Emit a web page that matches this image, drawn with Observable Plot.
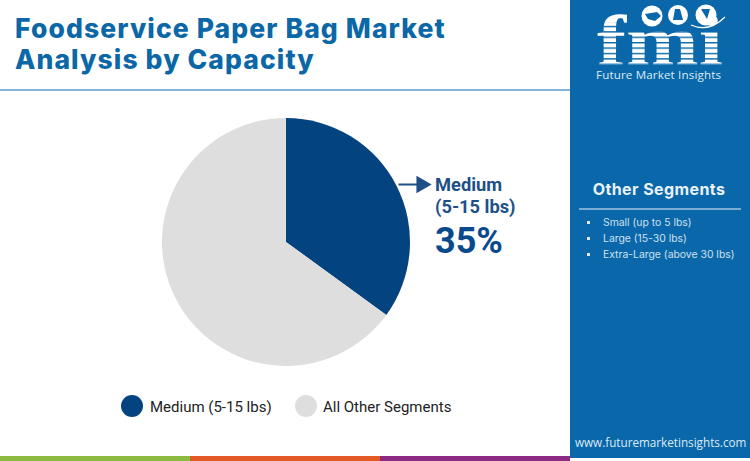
<!DOCTYPE html>
<html><head><meta charset="utf-8">
<script src="https://cdn.jsdelivr.net/npm/d3@7"></script>
<script src="https://cdn.jsdelivr.net/npm/@observablehq/plot@0.6"></script>
<style>
html,body{margin:0;padding:0;background:#fff;width:750px;height:461px;overflow:hidden;position:relative}
.abs{position:absolute;white-space:nowrap}
#title{left:15px;top:13px;font:800 26.5px/30.5px Inter,sans-serif;color:#0b67a6;letter-spacing:1.1px}
#rule{left:0;top:89px;width:570px;height:2px;background:#84b4d8}
#panel{left:570px;top:0;width:180px;height:458px;background:#0a67a9}
.bar{top:456px;height:5px}
#logo{left:570px;top:0}
#ost{left:570px;width:178px;text-align:center;top:179px;font:700 16px/20px Inter,sans-serif;color:#e9f2f8;letter-spacing:.4px}
#orule{left:579px;top:207.5px;width:162px;height:2px;background:#79add4}
.li{left:603px;font:400 10.4px/14px Inter,sans-serif;color:#cfe1ef}
.bu{left:587px;width:3px;height:3px;background:#dcebf5}
#web{left:575px;top:434px;font:400 11.7px/16px "Open Sans",sans-serif;color:#dcebf5}
.lg{top:396px;font:400 15px/22px Roboto,sans-serif;color:#222}
.sw{top:395px;width:22px;height:22px;border-radius:50%}
#chart{left:0;top:92px}
</style></head><body>
<div class="abs" id="title">Foodservice Paper Bag Market<br>Analysis by Capacity</div>
<div class="abs" id="rule"></div>
<div class="abs" id="chart"></div>
<div class="abs sw" style="left:121px;background:#03437f"></div>
<div class="abs lg" style="left:150px">Medium (5-15 lbs)</div>
<div class="abs sw" style="left:295px;background:#dedede"></div>
<div class="abs lg" style="left:323px">All Other Segments</div>
<div class="abs bar" style="left:0;width:190px;background:#8bbb40"></div>
<div class="abs bar" style="left:190px;width:190px;background:#e45a25"></div>
<div class="abs bar" style="left:380px;width:190px;background:#8c2a84"></div>
<div class="abs" id="panel"></div>
<svg class="abs" id="logo" width="180" height="90" viewBox="0 0 180 90">
  <defs><pattern id="st" width="4" height="5.4" patternUnits="userSpaceOnUse" y="15"><rect width="4" height="1.4" fill="#0a67a9"/></pattern></defs>
  <text x="27" y="65" font-family="Liberation Serif" font-weight="700" font-size="72" fill="#fff" textLength="126" lengthAdjust="spacingAndGlyphs">fmi</text>
  <rect x="20" y="22" width="140" height="45" fill="url(#st)"/>
  <circle cx="82" cy="16" r="10.5" fill="#fff"/><circle cx="108" cy="15" r="10" fill="#fff"/><circle cx="136" cy="15" r="10.5" fill="#fff"/>
  <path d="M75 14l12-2 4 4-6 5-7-2z" fill="#0a67a9"/><path d="M105 9l5 0 3 11-10 0z" fill="#0a67a9"/><path d="M131 9l9 0-3 10z" fill="#0a67a9"/>
  <path d="M121 25q18 8 34-8" stroke="#fff" stroke-width="1.2" fill="none"/>
  <text x="26" y="79" font-family="Open Sans" font-size="11.6" fill="#dcebf5" textLength="125">Future Market Insights</text>
</svg>
<div class="abs" id="ost">Other Segments</div>
<div class="abs" id="orule"></div>
<div class="abs bu" style="top:221px"></div><div class="abs li" style="top:215.5px">Small (up to 5 lbs)</div>
<div class="abs bu" style="top:237px"></div><div class="abs li" style="top:231.5px">Large (15-30 lbs)</div>
<div class="abs bu" style="top:253px"></div><div class="abs li" style="top:247.5px">Extra-Large (above 30 lbs)</div>
<div class="abs" id="web">www.futuremarketinsights.com</div>
<script>
const segments = ["Medium (5-15 lbs)", "All Other Segments"];
const shares = [35, 65];
const sliceColors = ["#03437f", "#dedede"];
const labelLines = ["Medium", "(5-15 lbs)"];
const labelValue = "35%";

const rows = segments.map((name, i) => ({name, share: shares[i]}));
const cx = 286, cy = 150, radius = 124;

const pieMark = Plot.dot(rows, {
  x: () => cx, y: () => cy, fill: "name", r: () => radius,
  render(index, scales, values, dims) {
    const arcs = d3.pie().sort(null).value(d => d.share)(rows);
    const gen = d3.arc().innerRadius(0).outerRadius(radius);
    const g = d3.create("svg:g");
    g.selectAll("path").data(arcs).join("path")
      .attr("transform", `translate(${scales.x(cx)},${scales.y(cy)})`)
      .attr("d", gen)
      .attr("fill", d => scales.color(d.data.name));
    return g.node();
  }
});

const plot = Plot.plot({
  width: 570, height: 362, margin: 0,
  x: {domain: [0, 570], range: [0, 570], axis: null},
  y: {domain: [0, 362], range: [0, 362], axis: null},
  color: {domain: segments, range: sliceColors},
  r: {type: "identity"},
  marks: [
    pieMark,
    Plot.link([{}], {x1: () => 398, y1: () => 92, x2: () => 418, y2: () => 92, stroke: "#1d4f88", strokeWidth: 2}),
    Plot.dot([{}], {x: () => 421, y: () => 92, symbol: "triangle", r: 6.5, fill: "#1d4f88", rotate: 90}),
    Plot.text([labelLines[0]], {x: () => 434.5, y: () => 93, text: d => d, textAnchor: "start", fontFamily: "Roboto", fontWeight: 700, fontSize: 18.3, fill: "#1d4f88"}),
    Plot.text([labelLines[1]], {x: () => 434.5, y: () => 115, text: d => d, textAnchor: "start", fontFamily: "Roboto", fontWeight: 700, fontSize: 18.3, fill: "#1d4f88"}),
    Plot.text([labelValue], {x: () => 434.5, y: () => 149, text: d => d, textAnchor: "start", fontFamily: "Roboto", fontWeight: 700, fontSize: 36, fill: "#0a4a8c"})
  ]
});
plot.style.background = "transparent";
document.getElementById("chart").append(plot);
</script>
</body></html>
